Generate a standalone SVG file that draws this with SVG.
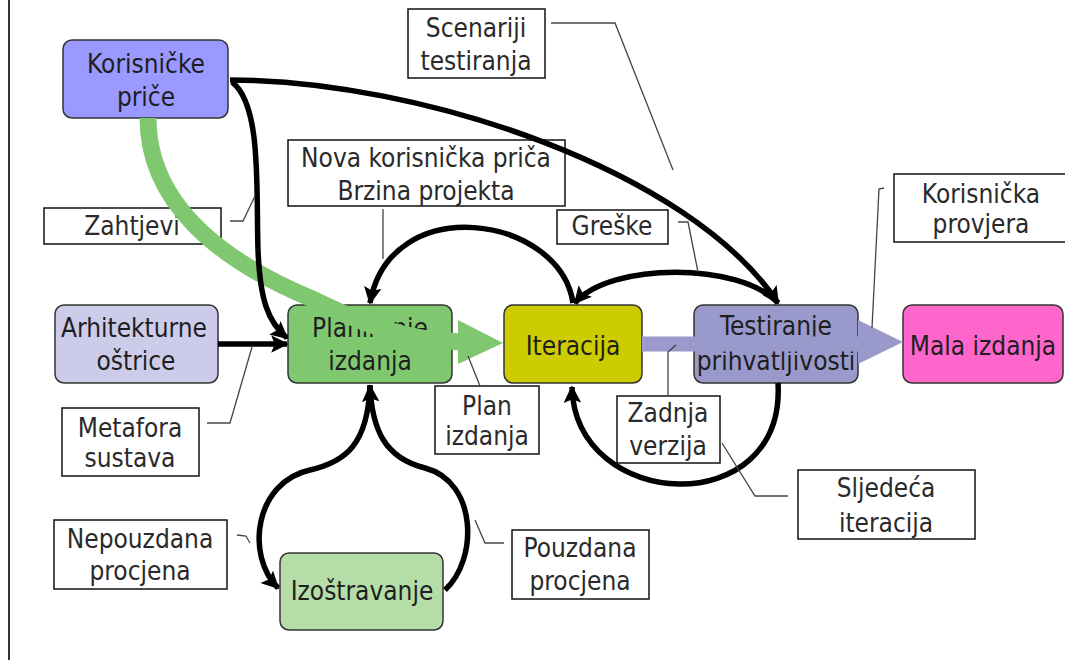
<svg xmlns="http://www.w3.org/2000/svg" width="1065" height="660" viewBox="0 0 1065 660">
  <style>
    .node { stroke: #333; stroke-width: 1.5; }
    .lbl { fill: #fff; stroke: #111; stroke-width: 1.5; }
    text { font-family: "DejaVu Sans Condensed", "DejaVu Sans", sans-serif; font-stretch: condensed; font-size: 26px; text-anchor: middle; fill: #1e1e1e; }
    .lt { fill: #2a2a2a; }
    .flow { fill: none; stroke: #000; stroke-width: 5.5; marker-end: url(#ah); }
    .lead { fill: none; stroke: #444; stroke-width: 1.3; }
  </style>
  <defs>
    <marker id="ah" viewBox="0 0 10 10" refX="9" refY="5" markerWidth="3.2" markerHeight="3.2" orient="auto" markerUnits="strokeWidth">
      <path d="M0,0 L10,5 L0,10 L2,5 z" fill="#000"/>
    </marker>
  </defs>
  <rect width="1065" height="660" fill="#fff"/>
  <line x1="9" y1="0" x2="9" y2="660" stroke="#333" stroke-width="2"/>

  <!-- process nodes -->
  <g id="korisnicke-price">
    <rect class="node" x="63" y="40" width="165" height="78" rx="9" fill="#9999ff"/>
    <text x="146" y="73">Korisničke</text>
    <text x="146" y="106">priče</text>
  </g>
  <g id="arhitekturne-ostrice">
    <rect class="node" x="55" y="305" width="163" height="78" rx="9" fill="#ccccea"/>
    <text x="134" y="337">Arhitekturne</text>
    <text x="136" y="370">oštrice</text>
  </g>
  <g id="planiranje-izdanja">
    <rect class="node" x="288" y="305" width="164" height="78" rx="9" fill="#80c870"/>
    <text x="370" y="337">Planiranje</text>
    <text x="370" y="370">izdanja</text>
  </g>
  <g id="iteracija">
    <rect class="node" x="504" y="305" width="138" height="78" rx="9" fill="#cccc00"/>
    <text x="573" y="355">Iteracija</text>
  </g>
  <g id="testiranje">
    <rect class="node" x="694" y="305" width="164" height="78" rx="9" fill="#9999cc"/>
    <text x="776" y="335">Testiranje</text>
    <text x="776" y="370">prihvatljivosti</text>
  </g>
  <g id="mala-izdanja">
    <rect class="node" x="903" y="305" width="160" height="78" rx="9" fill="#ff66cc"/>
    <text x="983" y="355">Mala izdanja</text>
  </g>
  <g id="izostravanje">
    <rect class="node" x="280" y="553" width="163" height="77" rx="9" fill="#b4dda8"/>
    <text x="362" y="600">Izoštravanje</text>
  </g>

  <!-- annotation boxes -->
  <g id="scenariji-testiranja">
    <rect class="lbl" x="408" y="9" width="137" height="69"/>
    <text class="lt" x="476" y="37">Scenariji</text>
    <text class="lt" x="476" y="70">testiranja</text>
  </g>
  <g id="nova-prica-brzina">
    <rect class="lbl" x="288" y="140" width="277" height="66"/>
    <text class="lt" x="426" y="167">Nova korisnička priča</text>
    <text class="lt" x="426" y="200">Brzina projekta</text>
  </g>
  <g id="zahtjevi">
    <rect class="lbl" x="44" y="208" width="177" height="36"/>
    <text class="lt" x="132" y="235">Zahtjevi</text>
  </g>
  <g id="greske">
    <rect class="lbl" x="557" y="210" width="111" height="34"/>
    <text class="lt" x="612" y="235">Greške</text>
  </g>
  <g id="korisnicka-provjera">
    <rect class="lbl" x="894" y="174" width="175" height="68"/>
    <text class="lt" x="981" y="203">Korisnička</text>
    <text class="lt" x="981" y="233">provjera</text>
  </g>
  <g id="metafora-sustava">
    <rect class="lbl" x="62" y="408" width="137" height="68"/>
    <text class="lt" x="130" y="437">Metafora</text>
    <text class="lt" x="130" y="467">sustava</text>
  </g>
  <g id="plan-izdanja">
    <rect class="lbl" x="435" y="386" width="104" height="68"/>
    <text class="lt" x="487" y="415">Plan</text>
    <text class="lt" x="487" y="445">izdanja</text>
  </g>
  <g id="zadnja-verzija">
    <rect class="lbl" x="617" y="396" width="103" height="67"/>
    <text class="lt" x="668" y="422">Zadnja</text>
    <text class="lt" x="668" y="455">verzija</text>
  </g>
  <g id="sljedeca-iteracija">
    <rect class="lbl" x="798" y="470" width="177" height="69"/>
    <text class="lt" x="886" y="497">Sljedeća</text>
    <text class="lt" x="886" y="532">iteracija</text>
  </g>
  <g id="nepouzdana-procjena">
    <rect class="lbl" x="54" y="520" width="173" height="69"/>
    <text class="lt" x="140" y="548">Nepouzdana</text>
    <text class="lt" x="140" y="580">procjena</text>
  </g>
  <g id="pouzdana-procjena">
    <rect class="lbl" x="512" y="530" width="137" height="69"/>
    <text class="lt" x="580" y="557">Pouzdana</text>
    <text class="lt" x="580" y="590">procjena</text>
  </g>

  <!-- connectors -->
  <g id="connectors">
    <!-- broad release-flow arrows -->
    <path d="M148,118 C148,200 215,258 310,298 C365,325 405,340 462,342" fill="none" stroke="#80c870" stroke-width="17"/>
    <path d="M458,320 L503,343 L458,364 z" fill="#80c870"/>
    <path d="M642,344 L862,344" fill="none" stroke="#9999cc" stroke-width="15"/>
    <path d="M858,320 L903,342 L858,364 z" fill="#9999cc"/>

    <!-- black flow arrows -->
    <path class="flow" d="M230,80 C420,80 690,170 778,303"/>
    <path class="flow" d="M232,82 C262,105 256,190 258,250 C260,300 268,322 287,338"/>
    <path class="flow" d="M218,344 L287,344"/>
    <path class="flow" d="M573,303 C560,215 390,190 370,303"/>
    <path class="flow" d="M778,303 C740,262 610,262 575,303"/>
    <path class="flow" d="M778,383 C786,522 575,512 572,387"/>
    <path class="flow" d="M370,385 C368,445 345,462 310,470 C255,482 245,555 278,588"/>
    <path class="flow" d="M445,590 C478,560 478,482 425,468 C385,458 372,430 370,386"/>

    <!-- annotation leaders -->
    <path class="lead" d="M551,23 L615,23 L673,170"/>
    <path class="lead" d="M383,209 L383,259"/>
    <path class="lead" d="M230,221 L243,221 L255,196"/>
    <path class="lead" d="M678,222 L688,222 L698,272"/>
    <path class="lead" d="M884,188 L879,189 L872,328"/>
    <path class="lead" d="M207,423 L230,423 L252,347"/>
    <path class="lead" d="M480,386 L468,356"/>
    <path class="lead" d="M668,396 L668,352 L676,345"/>
    <path class="lead" d="M788,496 L755,496 L722,443"/>
    <path class="lead" d="M237,535 L246,536 L250,543"/>
    <path class="lead" d="M504,543 L485,543 L475,520"/>
  </g>
</svg>
